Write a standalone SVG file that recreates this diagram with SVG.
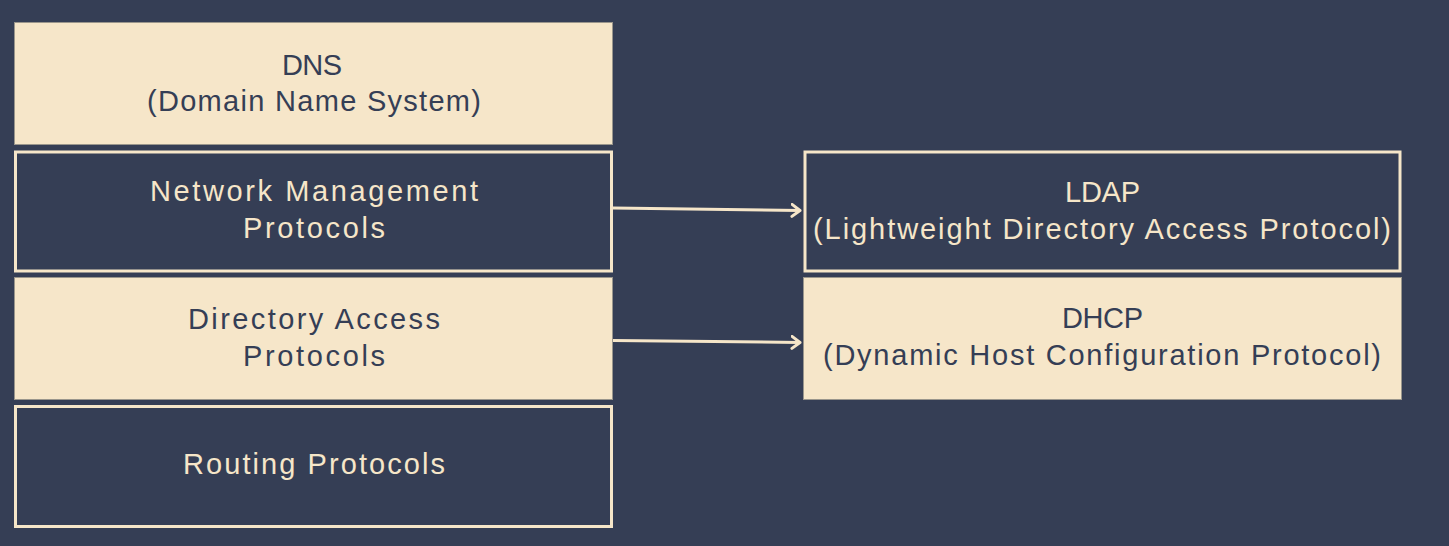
<svg xmlns="http://www.w3.org/2000/svg" width="1449" height="546" viewBox="0 0 1449 546">
<style>
.bg{fill:#353e55}
.fill{fill:#f6e6c9;stroke:#9a968c;stroke-width:1}
.dark{fill:#353e55;stroke:#f6e6c9;stroke-width:3}
.t{font-family:"Liberation Sans",Arial,sans-serif;font-size:29px;text-anchor:middle}
.td{fill:#353e55}
.tl{fill:#f6e6c9}
.conn{stroke:#f6e6c9;stroke-width:3;fill:none}
</style>
<defs>
<marker id="arr" markerWidth="12" markerHeight="16" refX="9.5" refY="7" orient="auto" markerUnits="userSpaceOnUse">
<path d="M1.5,1 L9.5,7 L1.5,13" fill="none" stroke="#f6e6c9" stroke-width="3" stroke-linecap="round" stroke-linejoin="round"/>
</marker>
</defs>
<rect class="bg" x="0" y="0" width="1449" height="546"/>
<g id="dns">
<rect class="fill" x="14.5" y="22.5" width="598" height="122"/>
<text class="t td" x="312" y="75" textLength="60" lengthAdjust="spacing">DNS</text>
<text class="t td" x="314" y="111" textLength="334" lengthAdjust="spacing">(Domain Name System)</text>
</g>
<g id="netmgmt">
<rect class="dark" x="15.5" y="152" width="596" height="119"/>
<text class="t tl" x="314" y="201" textLength="328" lengthAdjust="spacing">Network Management</text>
<text class="t tl" x="314" y="238" textLength="142" lengthAdjust="spacing">Protocols</text>
</g>
<g id="diraccess">
<rect class="fill" x="14.5" y="277.5" width="598" height="122"/>
<text class="t td" x="314" y="329" textLength="252" lengthAdjust="spacing">Directory Access</text>
<text class="t td" x="314" y="366" textLength="142" lengthAdjust="spacing">Protocols</text>
</g>
<g id="routing">
<rect class="dark" x="15.5" y="406.5" width="596" height="120"/>
<text class="t tl" x="314" y="474" textLength="262" lengthAdjust="spacing">Routing Protocols</text>
</g>
<g id="ldap">
<rect class="dark" x="805" y="152" width="595" height="119"/>
<text class="t tl" x="1102.5" y="202" textLength="75" lengthAdjust="spacing">LDAP</text>
<text class="t tl" x="1102" y="239" textLength="578" lengthAdjust="spacing">(Lightweight Directory Access Protocol)</text>
</g>
<g id="dhcp">
<rect class="fill" x="803.5" y="277.5" width="598" height="122"/>
<text class="t td" x="1102.5" y="328" textLength="81" lengthAdjust="spacing">DHCP</text>
<text class="t td" x="1102" y="365" textLength="558" lengthAdjust="spacing">(Dynamic Host Configuration Protocol)</text>
</g>
<g id="connectors">
<line class="conn" x1="613" y1="208" x2="800" y2="210.5" marker-end="url(#arr)"/>
<line class="conn" x1="613" y1="340.5" x2="800" y2="342.5" marker-end="url(#arr)"/>
</g>
</svg>
